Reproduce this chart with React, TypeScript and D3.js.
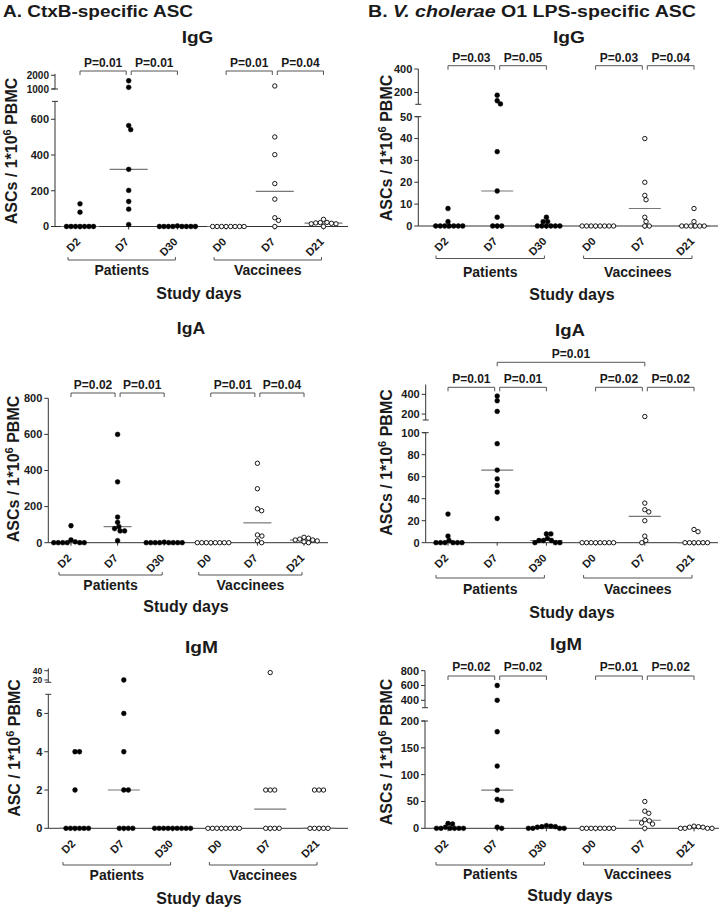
import React from 'react';
import * as d3 from 'd3';

const FONT = '"Liberation Sans", Arial, Helvetica, sans-serif';

// ---------- shared labels ----------
const CATEGORY_LABELS = ['D2', 'D7', 'D30', 'D0', 'D7', 'D21'];
const GROUP_LABELS = ['Patients', 'Vaccinees'];
const X_TITLE = 'Study days';

// ---------- A. CtxB-specific ASC ----------
// order of each list: Patients D2, D7, D30, Vaccinees D0, D7, D21
const ctxbIgG = [
  [127, 80, 0, 0, 0, 0, 0, 0, 0],
  [1600, 1120, 565, 542, 320, 202, 140, 97, 11],
  [3, 0, 0, 0, 0, 0, 0, 0, 0],
  [0, 0, 0, 0, 0, 0, 0, 0],
  [1220, 501, 402, 240, 153, 49, 34, 0],
  [40, 23, 22, 20, 18, 15, 15, 0],
];
const ctxbIgA = [
  [94, 15, 5, 0, 0, 0, 0, 0, 0],
  [600, 337, 142, 113, 89, 78, 65, 65, 11],
  [3, 0, 0, 0, 0, 0, 0, 0, 0],
  [0, 0, 0, 0, 0, 0, 0, 0],
  [440, 299, 188, 177, 43, 37, 11, 0],
  [30, 25, 20, 15, 15, 10, 5, 0],
];
const ctxbIgM = [
  [4, 4, 2, 0, 0, 0, 0, 0, 0],
  [20, 6, 4, 2, 2, 0, 0, 0, 0],
  [0, 0, 0, 0, 0, 0, 0, 0, 0],
  [0, 0, 0, 0, 0, 0, 0, 0],
  [36, 2, 2, 2, 0, 0, 0, 0],
  [2, 2, 2, 0, 0, 0, 0, 0],
];

// ---------- B. V. cholerae O1 LPS-specific ASC ----------
const lpsIgG = [
  [8, 2, 0, 0, 0, 0, 0, 0, 0],
  [177, 130, 103, 34, 16, 4, 0, 0, 0],
  [4, 2, 2, 0, 0, 0, 0, 0, 0],
  [0, 0, 0, 0, 0, 0, 0, 0],
  [40, 20, 14, 12, 4, 2, 0, 0],
  [8, 2, 0, 0, 0, 0, 0, 0],
];
const lpsIgA = [
  [26, 6, 2, 0, 0, 0, 0, 0, 0],
  [383, 335, 227, 90, 66, 58, 52, 46, 22],
  [8, 8, 4, 2, 2, 2, 0, 0, 0],
  [0, 0, 0, 0, 0, 0, 0, 0],
  [175, 36, 30, 28, 20, 6, 2, 0],
  [12, 10, 0, 0, 0, 0, 0, 0],
];
const lpsIgM = [
  [9, 8, 2, 0, 0, 0, 0, 0, 0],
  [600, 400, 180, 116, 71, 54, 52, 2, 0],
  [5, 4, 3, 3, 2, 0, 0, 0, 0],
  [0, 0, 0, 0, 0, 0, 0, 0],
  [50, 32, 28, 16, 14, 10, 8, 0],
  [4, 3, 2, 2, 0, 0, 0, 0],
];

// ---------- tick values ----------
const ctxbIgGTicks = [0, 200, 400, 600];
const ctxbIgGTicksUpper = [1000, 2000];
const ctxbIgATicks = [0, 200, 400, 600, 800];
const ctxbIgMTicks = [0, 2, 4, 6];
const ctxbIgMTicksUpper = [20, 40];
const lpsIgGTicks = [0, 10, 20, 30, 40, 50];
const lpsIgGTicksUpper = [200, 400];
const lpsIgATicks = [0, 20, 40, 60, 80, 100];
const lpsIgATicksUpper = [200, 400];
const lpsIgMTicks = [0, 50, 100, 150, 200];
const lpsIgMTicksUpper = [400, 600, 800];

// ---------- P values (D2-D7, D7-D30, D0-D7, D7-D21) ----------
const ctxbIgGP = ['P=0.01', 'P=0.01', 'P=0.01', 'P=0.04'];
const ctxbIgAP = ['P=0.02', 'P=0.01', 'P=0.01', 'P=0.04'];
const lpsIgGP = ['P=0.03', 'P=0.05', 'P=0.03', 'P=0.04'];
const lpsIgAP = ['P=0.01', 'P=0.01', 'P=0.02', 'P=0.02'];
const lpsIgATopP = 'P=0.01'; // patients D7 vs vaccinees D7
const lpsIgMP = ['P=0.02', 'P=0.02', 'P=0.01', 'P=0.02'];

type Seg = { domain: [number, number]; range: [number, number] };
type Layout = {
  axisX: number; xEnd: number; cat0: number; step: number;
  lower: Seg; upper?: Seg; upperFont?: number;
  title: { x: number; y: number; len: number };
  pY?: number; pTextY?: number; topY?: number; topTextY?: number;
  gY: number; gTextY: number; studyX: number; studyY: number;
  yLab: { x: number; y: number }; medW: number;
};
type PanelCfg = {
  name: string; data: number[][]; ticks: number[]; ticksUpper?: number[];
  pvals?: string[]; topP?: string; yTitle: string; L: Layout;
};

const PANELS: PanelCfg[] = [
  {
    name: 'IgG', data: ctxbIgG, ticks: ctxbIgGTicks, ticksUpper: ctxbIgGTicksUpper, pvals: ctxbIgGP, yTitle: 'ASCs / 1*10',
    L: {
      axisX: 55, xEnd: 348, cat0: 80, step: 48.7,
      lower: { domain: [0, 700], range: [226.5, 101.4] },
      upper: { domain: [1000, 2100], range: [89, 73.9] }, upperFont: 10,
      title: { x: 197.5, y: 42.5, len: 31.7 }, pY: 71, pTextY: 67,
      gY: 260, gTextY: 275, studyX: 199, studyY: 299, yLab: { x: 17, y: 151 }, medW: 38,
    },
  },
  {
    name: 'IgA', data: ctxbIgA, ticks: ctxbIgATicks, pvals: ctxbIgAP, yTitle: 'ASCs / 1*10',
    L: {
      axisX: 48.3, xEnd: 328, cat0: 71, step: 46.6,
      lower: { domain: [0, 800], range: [542.7, 398.3] },
      title: { x: 191, y: 333.5, len: 28.3 }, pY: 393, pTextY: 388.5,
      gY: 575, gTextY: 590, studyX: 186, studyY: 612, yLab: { x: 18.5, y: 469 }, medW: 28,
    },
  },
  {
    name: 'IgM', data: ctxbIgM, ticks: ctxbIgMTicks, ticksUpper: ctxbIgMTicksUpper, yTitle: 'ASC / 1*10',
    L: {
      axisX: 48.3, xEnd: 348, cat0: 75, step: 48.8,
      lower: { domain: [0, 7], range: [828.3, 694.3] },
      upper: { domain: [15, 45], range: [682.3, 668.4] }, upperFont: 8.5,
      title: { x: 201.5, y: 652.7, len: 33 },
      gY: 865, gTextY: 880, studyX: 199, studyY: 904, yLab: { x: 19.5, y: 748 }, medW: 32,
    },
  },
  {
    name: 'IgG', data: lpsIgG, ticks: lpsIgGTicks, ticksUpper: lpsIgGTicksUpper, pvals: lpsIgGP, yTitle: 'ASCs / 1*10',
    L: {
      axisX: 418.3, xEnd: 718, cat0: 448, step: 49.2,
      lower: { domain: [0, 50], range: [226, 116.7] },
      upper: { domain: [100, 400], range: [104.3, 69] },
      title: { x: 569, y: 42.5, len: 32 }, pY: 65.7, pTextY: 61.5,
      gY: 258.5, gTextY: 276.5, studyX: 572, studyY: 300, yLab: { x: 392, y: 148 }, medW: 32,
    },
  },
  {
    name: 'IgA', data: lpsIgA, ticks: lpsIgATicks, ticksUpper: lpsIgATicksUpper, pvals: lpsIgAP, topP: lpsIgATopP, yTitle: 'ASCs / 1*10',
    L: {
      axisX: 425.7, xEnd: 718, cat0: 448, step: 49.2,
      lower: { domain: [0, 100], range: [542.7, 432.7] },
      upper: { domain: [140, 500], range: [420, 384.5] },
      title: { x: 570, y: 336, len: 30 }, pY: 387.3, pTextY: 382.5, topY: 362.3, topTextY: 357.5,
      gY: 578, gTextY: 593.5, studyX: 572, studyY: 618, yLab: { x: 392, y: 462.5 }, medW: 32,
    },
  },
  {
    name: 'IgM', data: lpsIgM, ticks: lpsIgMTicks, ticksUpper: lpsIgMTicksUpper, pvals: lpsIgMP, yTitle: 'ASCs / 1*10',
    L: {
      axisX: 425, xEnd: 719, cat0: 448, step: 49.2,
      lower: { domain: [0, 200], range: [828.3, 721] },
      upper: { domain: [300, 800], range: [707.7, 670.7] },
      title: { x: 566, y: 649.5, len: 32 }, pY: 676, pTextY: 671,
      gY: 865, gTextY: 879, studyX: 570, studyY: 901, yLab: { x: 392, y: 752 }, medW: 32,
    },
  },
];

function swarm(vals: number[], cx: number, y: (v: number) => number, D = 4.5) {
  const pts = vals.map((v) => ({ v, y: y(v), x: cx }));
  const order = pts.slice().sort((a, b) => b.v - a.v);
  const placed: { x: number; y: number }[] = [];
  for (const p of order) {
    for (let k = 0; k < 600; k++) {
      const off = (k % 2 === 1 ? 1 : -1) * Math.ceil(k / 2) * 0.25;
      const px = cx + off;
      if (placed.every((q) => (q.x - px) ** 2 + (q.y - p.y) ** 2 >= D * D - 0.01)) {
        p.x = px;
        break;
      }
    }
    placed.push(p);
  }
  return pts;
}

const INK = '#1a1a1a';
const AXIS = '#333';
const BRACKET = '#555';

function Panel({ cfg }: { cfg: PanelCfg }) {
  const { data, ticks, ticksUpper, pvals, topP, L, name, yTitle } = cfg;
  const idx = d3.range(CATEGORY_LABELS.length);
  const x = d3.scalePoint<number>().domain(idx).range([L.cat0, L.cat0 + (idx.length - 1) * L.step]).padding(0);
  const lower = d3.scaleLinear().domain(L.lower.domain).range(L.lower.range);
  const upper = L.upper ? d3.scaleLinear().domain(L.upper.domain).range(L.upper.range) : null;
  const y = (v: number) => (upper && L.upper && v >= L.upper.domain[0] ? upper(v) : lower(v));
  const zeroY = lower(0);
  const X = (i: number) => x(i) as number;

  const pairs = [[0, 1], [1, 2], [3, 4], [4, 5]];
  const isMid = (i: number) => i === 1 || i === 4;

  const tickLabel = (v: number, yy: number, key: string, fs: number) => (
    <g key={key}>
      <line x1={L.axisX - 4} x2={L.axisX} y1={yy} y2={yy} stroke={AXIS} strokeWidth={1} />
      <text x={L.axisX - 6} y={yy} dy="0.35em" textAnchor="end" fontSize={fs} fontWeight="bold" fill={INK}>{v}</text>
    </g>
  );

  return (
    <g>
      {/* panel title */}
      <text x={L.title.x} y={L.title.y} textAnchor="middle" fontSize={16} fontWeight="bold" fill={INK}
        textLength={L.title.len} lengthAdjust="spacingAndGlyphs">{name}</text>

      {/* y axis lower segment */}
      <line x1={L.axisX} x2={L.axisX} y1={L.lower.range[0]} y2={L.lower.range[1]} stroke={AXIS} strokeWidth={1} />
      {upper && L.upper && (
        <g>
          <line x1={L.axisX - 3} x2={L.axisX + 3} y1={L.lower.range[1]} y2={L.lower.range[1]} stroke={AXIS} strokeWidth={1} />
          <line x1={L.axisX} x2={L.axisX} y1={L.upper.range[0]} y2={L.upper.range[1]} stroke={AXIS} strokeWidth={1} />
          <line x1={L.axisX - 3} x2={L.axisX + 3} y1={L.upper.range[0]} y2={L.upper.range[0]} stroke={AXIS} strokeWidth={1} />
        </g>
      )}
      {ticks.map((t) => tickLabel(t, lower(t), 'l' + t, 11))}
      {upper && (ticksUpper || []).map((t) => tickLabel(t, upper(t), 'u' + t, L.upperFont ?? 11))}

      {/* y axis title */}
      <text transform={`translate(${L.yLab.x},${L.yLab.y}) rotate(-90)`} textAnchor="middle" fontSize={16} fontWeight="bold" fill={INK}>
        {yTitle}<tspan dy={-6} fontSize={11}>6</tspan><tspan dy={6}> PBMC</tspan>
      </text>

      {/* x axis */}
      <line x1={L.axisX} x2={L.xEnd} y1={zeroY} y2={zeroY} stroke={AXIS} strokeWidth={1} />
      {idx.map((i) => (
        <g key={'xt' + i}>
          <line x1={X(i)} x2={X(i)} y1={zeroY} y2={zeroY + 3} stroke={AXIS} strokeWidth={1} />
          <text transform={`translate(${X(i) + 1},${zeroY + 16}) rotate(-45)`} textAnchor="end" fontSize={11} fontWeight="bold" fill={INK}>
            {CATEGORY_LABELS[i]}
          </text>
        </g>
      ))}

      {/* group brackets */}
      {[[0, 2], [3, 5]].map(([a, b], g) => {
        const x1 = X(a) - 12;
        const x2 = X(b) - 2;
        return (
          <g key={'gb' + g}>
            <path d={`M${x1},${L.gY - 3}V${L.gY}H${x2}V${L.gY - 3}`} fill="none" stroke={BRACKET} strokeWidth={1} />
            <text x={(x1 + x2) / 2} y={L.gTextY} textAnchor="middle" fontSize={14} fontWeight="bold" fill={INK}>{GROUP_LABELS[g]}</text>
          </g>
        );
      })}
      <text x={L.studyX} y={L.studyY} textAnchor="middle" fontSize={16} fontWeight="bold" fill={INK}>{X_TITLE}</text>

      {/* P-value brackets */}
      {pvals && L.pY !== undefined && pairs.map(([a, b], k) => {
        const x1 = X(a) + (isMid(a) ? 2.5 : 0);
        const x2 = X(b) - (isMid(b) ? 2.5 : 0);
        return (
          <g key={'pb' + k}>
            <path d={`M${x1},${L.pY! + 4}V${L.pY}H${x2}V${L.pY! + 4}`} fill="none" stroke={BRACKET} strokeWidth={1} />
            <text x={(x1 + x2) / 2} y={L.pTextY} textAnchor="middle" fontSize={12} fontWeight="bold" fill={INK}>{pvals[k]}</text>
          </g>
        );
      })}
      {topP && L.topY !== undefined && (
        <g>
          <path d={`M${X(1)},${L.topY + 4}V${L.topY}H${X(4)}V${L.topY + 4}`} fill="none" stroke={BRACKET} strokeWidth={1} />
          <text x={(X(1) + X(4)) / 2} y={L.topTextY} textAnchor="middle" fontSize={12} fontWeight="bold" fill={INK}>{topP}</text>
        </g>
      )}

      {/* medians */}
      {data.map((vals, i) => {
        const m = d3.median(vals) as number;
        return (
          <line key={'m' + i} x1={X(i) - L.medW / 2} x2={X(i) + L.medW / 2} y1={y(m)} y2={y(m)} stroke="#777" strokeWidth={1.2} />
        );
      })}

      {/* dots */}
      {data.map((vals, i) => {
        const pts = swarm(vals, X(i), y);
        const open = i >= 3;
        return pts.map((p, j) => (
          <circle key={`d${i}-${j}`} cx={p.x} cy={p.y} r={open ? 2.2 : 2.4}
            fill={open ? '#fff' : '#000'} stroke="#000" strokeWidth={open ? 0.9 : 0.5} />
        ));
      })}
    </g>
  );
}

export default function App() {
  return (
    <svg width={720} height={909} style={{ position: 'absolute', left: 0, top: 0, background: '#fff' }} fontFamily={FONT}>
      <rect width={720} height={909} fill="#fff" />
      <text x={3} y={17} fontSize={16} fontWeight="bold" fill={INK} textLength={190} lengthAdjust="spacingAndGlyphs">A. CtxB-specific ASC</text>
      <text x={368} y={17} fontSize={16} fontWeight="bold" fill={INK} textLength={328} lengthAdjust="spacingAndGlyphs">
        B. <tspan fontStyle="italic">V. cholerae</tspan> O1 LPS-specific ASC
      </text>
      {PANELS.map((p, i) => <Panel key={i} cfg={p} />)}
    </svg>
  );
}
